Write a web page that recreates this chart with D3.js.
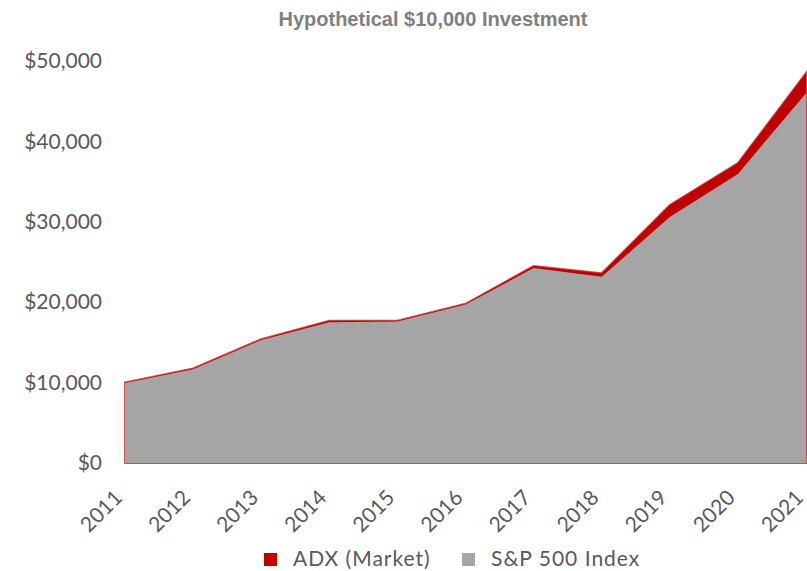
<!DOCTYPE html>
<html>
<head>
<meta charset="utf-8">
<script src="https://cdn.jsdelivr.net/npm/d3@7"></script>
<style>
  body { margin: 0; background: #fff; }
  svg { display: block; }
</style>
</head>
<body>
<div id="chart"></div>
<script>
/**
 * Data
 */
const years = [2011, 2012, 2013, 2014, 2015, 2016, 2017, 2018, 2019, 2020, 2021];
const adxValues = [10000, 11750, 15400, 17700, 17700, 19800, 24500, 23600, 32100, 37300, 48500];
const spxValues = [9950, 11650, 15300, 17500, 17600, 19700, 24250, 23150, 30600, 35950, 46000];
const yTicks = [0, 10000, 20000, 30000, 40000, 50000];
const seriesNames = ["ADX (Market)", "S&P 500 Index"];

/**
 * Basic Settings
 */
const width = 807;
const height = 571;
const margin = { left: 125, right: 1, top: 61, bottom: 108 };
const colors = ["#c00000", "#a5a5a5"];

const svg = d3.select("#chart")
  .append("svg")
  .attr("width", width)
  .attr("height", height);

/**
 * Scale
 */
const xScale = d3.scaleLinear()
  .domain([years[0], years[years.length - 1]])
  .range([margin.left, width - margin.right]);

const yScale = d3.scaleLinear()
  .domain([0, 50000])
  .range([height - margin.bottom, margin.top]);

/**
 * Areas
 */
const area = d3.area()
  .x((d, i) => xScale(years[i]))
  .y0(yScale(0))
  .y1(d => yScale(d));

svg.append("path")
  .datum(adxValues)
  .attr("d", area)
  .attr("fill", colors[0])
  .attr("stroke", colors[0])
  .attr("stroke-opacity", 0.7)
  .attr("stroke-width", 2);

svg.append("path")
  .datum(spxValues)
  .attr("d", area)
  .attr("fill", colors[1]);

/**
 * Title
 */
svg.append("text")
  .attr("x", 433)
  .attr("y", 26)
  .attr("text-anchor", "middle")
  .style("font-family", "'Liberation Sans Narrow', 'Arial Narrow', Arial, sans-serif")
  .style("font-weight", "bold")
  .style("font-size", "20px")
  .attr("fill", "#7f7f7f")
  .text("Hypothetical $10,000 Investment");

/**
 * Axes
 */
const yAxis = d3.axisLeft(yScale)
  .tickValues(yTicks)
  .tickSize(0)
  .tickPadding(23)
  .tickFormat(d => "$" + d3.format(",")(d));

const gy = svg.append("g")
  .attr("transform", "translate(" + margin.left + ",0)")
  .call(yAxis);
gy.select(".domain").remove();
gy.selectAll("text")
  .style("font-family", "Lato, 'Open Sans', sans-serif")
  .style("font-size", "21px")
  .attr("fill", "#595959");

const xAxis = d3.axisBottom(xScale)
  .tickValues(years)
  .tickSize(0)
  .tickFormat(d3.format("d"));

const gx = svg.append("g")
  .attr("transform", "translate(0," + (height - margin.bottom) + ")")
  .call(xAxis);
gx.select(".domain").remove();
gx.selectAll("text")
  .attr("text-anchor", "end")
  .attr("dy", null)
  .attr("y", 0)
  .attr("transform", "translate(-2,36) rotate(-45)")
  .style("font-family", "Lato, 'Open Sans', sans-serif")
  .style("font-size", "21px")
  .attr("fill", "#595959");

/**
 * Legend
 */
const legendX = [264, 462];
const legend = svg.append("g");
seriesNames.forEach((name, i) => {
  legend.append("rect")
    .attr("x", legendX[i])
    .attr("y", 553)
    .attr("width", 13)
    .attr("height", 13)
    .attr("fill", colors[i]);
  legend.append("text")
    .attr("x", legendX[i] + 29)
    .attr("y", 566)
    .style("font-family", "Lato, 'Open Sans', sans-serif")
    .style("font-size", "21px")
    .style("letter-spacing", "1px")
    .attr("fill", "#595959")
    .text(name);
});
</script>
</body>
</html>
